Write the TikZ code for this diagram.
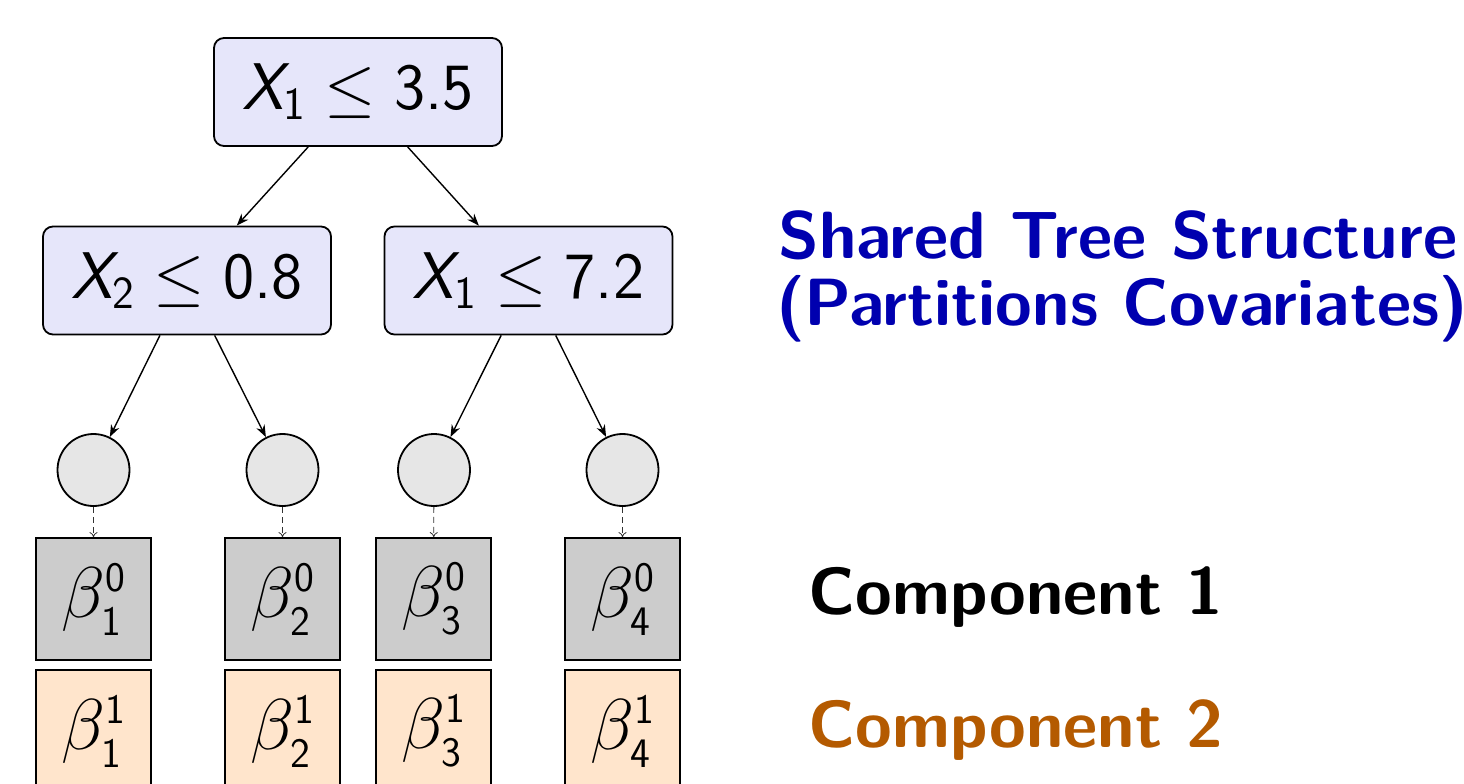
\RequirePackage{fix-cm}
\documentclass[tikz,border=0pt]{standalone}
\usepackage{amsmath}
\usepackage{fontspec}
\usetikzlibrary{arrows.meta}
\DeclareMathSizes{33}{33}{23}{17}
\DeclareMathSizes{36}{36}{21}{16}
\definecolor{splitfill}{RGB}{230,230,250}
\definecolor{leaffill}{RGB}{230,230,230}
\definecolor{compone}{RGB}{204,204,204}
\definecolor{comptwo}{RGB}{255,229,204}
\definecolor{titleblue}{RGB}{0,0,175}
\definecolor{comptwotext}{RGB}{180,90,0}
\newcommand{\sfX}{\textsf{\itshape X}}
\newcommand{\sfn}[1]{\textsf{#1}}
\begin{document}
\begin{tikzpicture}[x=0.5pt,y=-0.5pt,
  splitnode/.style={draw=black,line width=0.9pt,rounded corners=5pt,fill=splitfill,
    minimum width=144pt,minimum height=54pt,inner sep=0pt,
    font=\fontsize{33}{39}\selectfont},
  leafnode/.style={draw=black,line width=0.9pt,circle,fill=leaffill,minimum size=36pt,inner sep=0pt},
  compbox/.style={draw=black,line width=0.9pt,minimum width=57.5pt,minimum height=61pt,inner sep=0pt,
    font=\fontsize{36}{42}\selectfont},
  treearrow/.style={-{Stealth[length=6pt,width=4.5pt]},line width=0.7pt},
  leafarrow/.style={-{To[length=2.5pt,width=4pt]},dashed,dash pattern=on 3pt off 2pt,line width=0.4pt,draw=black!80},
  sidelabel/.style={anchor=base west,font=\fontsize{33.4}{40}\selectfont\sffamily\bfseries,inner sep=0pt}
]
\useasboundingbox (0,0) rectangle (1464,783);
% split nodes
\node[splitnode] (root) at (358,92) {$\sfX_{\sfn{1}} \leq \sfn{3.5}$};
\node[splitnode] (left) at (187,280.5) {$\sfX_{\sfn{2}} \leq \sfn{0.8}$};
\node[splitnode] (right) at (528.5,280.5) {$\sfX_{\sfn{1}} \leq \sfn{7.2}$};
% leaves
\node[leafnode] (l1) at (93.5,470) {};
\node[leafnode] (l2) at (282.5,470) {};
\node[leafnode] (l3) at (434,470) {};
\node[leafnode] (l4) at (622.5,470) {};
% component 1 boxes
\node[compbox,fill=compone] (a1) at (93.5,599) {$\beta_{\sfn{1}}^{\sfn{0}}$};
\node[compbox,fill=compone] (a2) at (282.5,599) {$\beta_{\sfn{2}}^{\sfn{0}}$};
\node[compbox,fill=compone] (a3) at (433.5,599) {$\beta_{\sfn{3}}^{\sfn{0}}$};
\node[compbox,fill=compone] (a4) at (622.5,599) {$\beta_{\sfn{4}}^{\sfn{0}}$};
% component 2 boxes
\node[compbox,fill=comptwo] (b1) at (93.5,731) {$\beta_{\sfn{1}}^{\sfn{1}}$};
\node[compbox,fill=comptwo] (b2) at (282.5,731) {$\beta_{\sfn{2}}^{\sfn{1}}$};
\node[compbox,fill=comptwo] (b3) at (433.5,731) {$\beta_{\sfn{3}}^{\sfn{1}}$};
\node[compbox,fill=comptwo] (b4) at (622.5,731) {$\beta_{\sfn{4}}^{\sfn{1}}$};
% tree edges
\draw[treearrow] (root) -- (left);
\draw[treearrow] (root) -- (right);
\draw[treearrow] (left) -- (l1);
\draw[treearrow] (left) -- (l2);
\draw[treearrow] (right) -- (l3);
\draw[treearrow] (right) -- (l4);
% dashed links
\draw[leafarrow] (l1) -- (a1);
\draw[leafarrow] (l2) -- (a2);
\draw[leafarrow] (l3) -- (a3);
\draw[leafarrow] (l4) -- (a4);
% labels
\node[sidelabel,text=titleblue] (t1) at (778,258) {Shared Tree Structure};
\node[sidelabel,text=titleblue] (t2) at (776,325) {(Partitions Covariates)};
\node[sidelabel,text=black] (c1) at (808,614) {Component 1};
\node[sidelabel,text=comptwotext] (c2) at (808,747) {Component 2};
\end{tikzpicture}
\end{document}
